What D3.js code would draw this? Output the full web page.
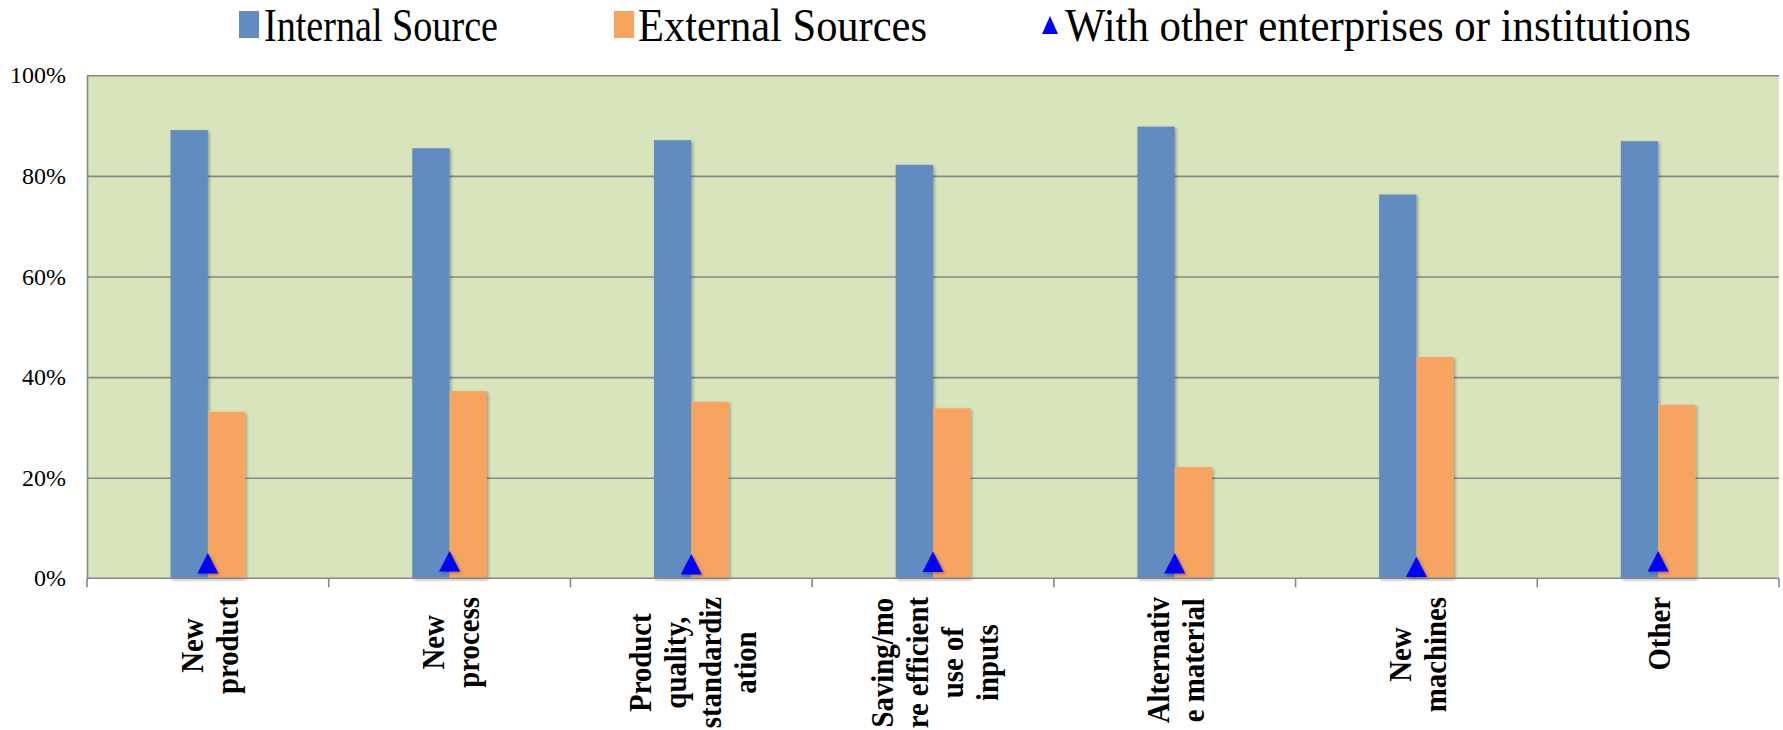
<!DOCTYPE html>
<html>
<head>
<meta charset="utf-8">
<script src="https://cdn.jsdelivr.net/npm/d3@7"></script>
<style>
  html, body { margin: 0; padding: 0; background: #ffffff; }
  svg { display: block; }
  text { font-family: "Liberation Serif", "Times New Roman", serif; fill: #000; }
</style>
</head>
<body>
<svg id="chart" width="1783" height="730"></svg>
<script>
// Share of innovating firms by source of innovation, per innovation type (%)
const categories = [
  "New product", "New process", "Product quality, standardization",
  "Saving/more efficient use of inputs", "Alternative material",
  "New machines", "Other"
];
// wrapped tick labels, one array of lines per category
const categoryLines = [
  ["New", "product"],
  ["New", "process"],
  ["Product", "quality,", "standardiz", "ation"],
  ["Saving/mo", "re efficient", "use of", "inputs"],
  ["Alternativ", "e material"],
  ["New", "machines"],
  ["Other"]
];
const internalSource  = [89.1, 85.5, 87.1, 82.2, 89.8, 76.3, 86.9];
const externalSources = [33.1, 37.2, 35.1, 33.8, 22.1, 44.0, 34.5];
const withOthers      = [3.0, 3.4, 2.8, 3.3, 3.0, 2.3, 3.4];
const yTicks = [0, 20, 40, 60, 80, 100];
const seriesNames = ["Internal Source", "External Sources", "With other enterprises or institutions"];

const colors = { internal: "#618CC1", external: "#F6A45E", withOthers: "#0000FF",
                 plotBg: "#D8E4BC", grid: "#878787" };
const serif = '"Liberation Serif", "Times New Roman", serif';

const svg = d3.select("#chart");
const plot = { left: 87, right: 1779, top: 75.3, bottom: 578.3 };

const x = d3.scaleBand().domain(categories).range([plot.left, plot.right]).padding(0);
const y = d3.scaleLinear().domain([0, 100]).range([plot.bottom, plot.top]);
const barW = x.bandwidth() * 0.1543;

// soft shadow under the bars and markers
const defs = svg.append("defs");
const f = defs.append("filter").attr("id", "shadow")
  .attr("x", "-30%").attr("y", "-10%").attr("width", "160%").attr("height", "120%");
f.append("feDropShadow").attr("dx", 1.5).attr("dy", 1.5).attr("stdDeviation", 1.6)
  .attr("flood-color", "#000").attr("flood-opacity", 0.32);

// plot background
svg.append("rect")
  .attr("x", plot.left).attr("y", plot.top)
  .attr("width", plot.right - plot.left).attr("height", plot.bottom - plot.top)
  .attr("fill", colors.plotBg);

// horizontal gridlines
const grid = svg.append("g")
  .attr("transform", `translate(${plot.left},0)`)
  .call(d3.axisRight(y).tickValues(yTicks.slice(1)).tickSize(plot.right - plot.left).tickFormat(""));
grid.select(".domain").remove();
grid.selectAll("line").attr("stroke", colors.grid).attr("stroke-width", 1.6);

// y-axis labels
const yAxis = svg.append("g")
  .attr("transform", `translate(${plot.left},0)`)
  .call(d3.axisLeft(y).tickValues(yTicks).tickSize(0).tickPadding(21).tickFormat(d => d + "%"));
yAxis.attr("font-family", null);
yAxis.select(".domain").attr("stroke", colors.grid).attr("stroke-width", 1.6);
yAxis.selectAll("text")
  .style("font-family", serif)
  .style("font-size", "24px").attr("fill", "#000");

// bars
const data = categories.map((c, i) => ({ c, internal: internalSource[i], external: externalSources[i], other: withOthers[i] }));
const bars = svg.append("g").attr("filter", "url(#shadow)");
bars.selectAll(".bar-int").data(data).join("rect")
  .attr("x", d => x(d.c) + x.bandwidth() / 2 - barW)
  .attr("y", d => y(d.internal))
  .attr("width", barW)
  .attr("height", d => y(0) - y(d.internal))
  .attr("fill", colors.internal);
bars.selectAll(".bar-ext").data(data).join("rect")
  .attr("x", d => x(d.c) + x.bandwidth() / 2)
  .attr("y", d => y(d.external))
  .attr("width", barW)
  .attr("height", d => y(0) - y(d.external))
  .attr("fill", colors.external);

// x axis line and category boundary ticks
const xAxis = svg.append("g");
xAxis.append("line")
  .attr("x1", plot.left).attr("x2", plot.right)
  .attr("y1", y(0)).attr("y2", y(0))
  .attr("stroke", colors.grid).attr("stroke-width", 1.6);
const bounds = categories.map(c => x(c)).concat([x(categories[categories.length - 1]) + x.step()]);
xAxis.selectAll(".tick").data(bounds).join("line")
  .attr("x1", d => d).attr("x2", d => d)
  .attr("y1", y(0)).attr("y2", y(0) + 9)
  .attr("stroke", colors.grid).attr("stroke-width", 1.6);

// triangle markers: isosceles triangle centred on its bounding box
const triangle = (w, h) => ({
  draw(ctx) {
    ctx.moveTo(0, -h / 2);
    ctx.lineTo(w / 2, h / 2);
    ctx.lineTo(-w / 2, h / 2);
    ctx.closePath();
  }
});
svg.append("g").attr("filter", "url(#shadow)")
  .selectAll("path").data(data).join("path")
  .attr("d", d3.symbol().type(triangle(21, 20.5))())
  .attr("transform", d => `translate(${x(d.c) + x.bandwidth() / 2},${y(d.other)})`)
  .attr("fill", colors.withOthers);

// rotated, wrapped category labels (top edge of each block sits just below the axis)
const labelFont = 32, labelSx = 0.9, lineGap = 35;
const labelTop = 597;
const lg = svg.append("g");
data.forEach((d, i) => {
  const lines = categoryLines[i];
  const cx = x(d.c) + x.bandwidth() / 2 + 2;
  const g = lg.append("g");
  const texts = lines.map(t => g.append("text")
    .text(t)
    .style("font-family", serif)
    .style("font-size", labelFont + "px")
    .style("font-weight", "bold")
    .attr("text-anchor", "middle"));
  const maxLen = d3.max(texts, t => t.node().getComputedTextLength()) * labelSx;
  const cy = labelTop + maxLen / 2;
  texts.forEach((t, k) => {
    const lx = cx + (k - (lines.length - 1) / 2) * lineGap + 0.32 * labelFont;
    t.attr("transform", `translate(${lx},${cy}) rotate(-90) scale(${labelSx},1)`);
  });
});

// legend
const legend = svg.append("g");
const legendItems = [
  { name: seriesNames[0], kind: "rect", color: colors.internal, mx: 239, tx: 264, w: 234 },
  { name: seriesNames[1], kind: "rect", color: colors.external, mx: 614, tx: 638, w: 289 },
  { name: seriesNames[2], kind: "tri",  color: colors.withOthers, mx: 1042, tx: 1065, w: 626 }
];
legendItems.forEach(it => {
  if (it.kind === "rect") {
    legend.append("rect").attr("x", it.mx).attr("y", 11).attr("width", 20).attr("height", 27)
      .attr("fill", it.color);
  } else {
    legend.append("path").attr("d", d3.symbol().type(triangle(16, 18))())
      .attr("transform", `translate(${it.mx + 8},25)`).attr("fill", it.color);
  }
  legend.append("text")
    .attr("x", it.tx).attr("y", 41)
    .attr("textLength", it.w).attr("lengthAdjust", "spacingAndGlyphs")
    .style("font-family", serif)
    .style("font-size", "46px")
    .text(it.name);
});
</script>
</body>
</html>
